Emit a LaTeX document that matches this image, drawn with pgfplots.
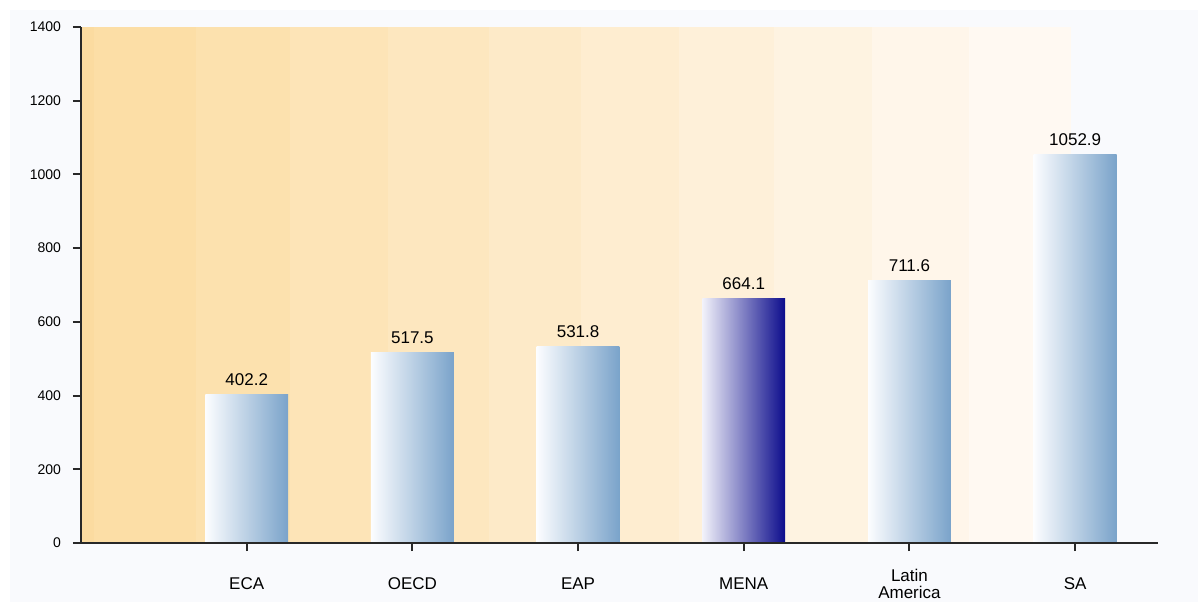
\documentclass[border=0pt]{standalone}
\usepackage{fontspec}
\setmainfont{Liberation Sans}
\usepackage{pgfplots}
\pgfplotsset{compat=1.18}
\definecolor{panel}{RGB}{249,250,253}
\definecolor{sA}{RGB}{251,219,160}
\definecolor{s0}{RGB}{252,222,166}
\definecolor{s1}{RGB}{252,225,174}
\definecolor{s2}{RGB}{253,228,183}
\definecolor{s3}{RGB}{253,231,191}
\definecolor{s4}{RGB}{253,234,200}
\definecolor{s5}{RGB}{254,237,208}
\definecolor{s6}{RGB}{254,240,217}
\definecolor{s7}{RGB}{254,243,225}
\definecolor{s8}{RGB}{255,246,234}
\definecolor{s9}{RGB}{255,249,242}
\definecolor{barL}{RGB}{252,253,255}
\definecolor{barR}{RGB}{122,163,202}
\definecolor{menaL}{RGB}{242,242,250}
\definecolor{menaR}{RGB}{12,12,140}
\definecolor{axl}{RGB}{40,40,40}
\begin{document}
\begin{tikzpicture}
\path[use as bounding box, fill=white] (-40.5bp,-29.5bp) rectangle (558.5bp,271.5bp);
\fill[panel] (-35.5bp,-29.5bp) rectangle (558.5bp,266.5bp);
\begin{axis}[
  at={(0,0)}, anchor=south west,
  scale only axis,
  width=538.5bp, height=258bp,
  xmin=-1, xmax=5.5, ymin=0, ymax=1400,
  axis x line*=bottom, axis y line*=left,
  axis line style={axl, line width=1bp},
  every tick/.style={axl, line width=1bp},
  tick align=outside,
  major tick length=4bp,
  axis on top,
  ytick={0,200,...,1400},
  xtick={0,1,2,3,4,5},
  xticklabels={ECA,OECD,EAP,MENA,{Latin\\America},SA},
  xticklabel style={font=\fontsize{8.5bp}{8.5bp}\selectfont, align=center, anchor=center, yshift=-16.5bp},
  yticklabel style={font=\fontsize{7bp}{8bp}\selectfont, xshift=-2.5bp},
  /pgf/number format/assume math mode=true,
  /pgf/number format/1000 sep={},
  ybar, bar width=0.5,
  nodes near coords,
  point meta=explicit symbolic,
  nodes near coords style={font=\fontsize{8.5bp}{9bp}\selectfont, anchor=south, yshift=1bp},
  every axis plot/.append style={draw=none, bar shift=0pt},
]
\fill[sA] (axis cs:-1,0) rectangle (axis cs:-0.92,1400);
\fill[s0] (axis cs:-0.92,0) rectangle (axis cs:-0.307,1400);
\fill[s1] (axis cs:-0.307,0) rectangle (axis cs:0.259,1400);
\fill[s2] (axis cs:0.259,0) rectangle (axis cs:0.855,1400);
\fill[s3] (axis cs:0.855,0) rectangle (axis cs:1.464,1400);
\fill[s4] (axis cs:1.464,0) rectangle (axis cs:2.018,1400);
\fill[s5] (axis cs:2.018,0) rectangle (axis cs:2.608,1400);
\fill[s6] (axis cs:2.608,0) rectangle (axis cs:3.181,1400);
\fill[s7] (axis cs:3.181,0) rectangle (axis cs:3.771,1400);
\fill[s8] (axis cs:3.771,0) rectangle (axis cs:4.361,1400);
\fill[s9] (axis cs:4.361,0) rectangle (axis cs:4.976,1400);
\addplot[left color=barL, right color=barR] coordinates {(0,402.2) [402.2]};
\addplot[left color=barL, right color=barR] coordinates {(1,517.5) [517.5]};
\addplot[left color=barL, right color=barR] coordinates {(2,531.8) [531.8]};
\addplot[left color=menaL, right color=menaR] coordinates {(3,664.1) [664.1]};
\addplot[left color=barL, right color=barR] coordinates {(4,711.6) [711.6]};
\addplot[left color=barL, right color=barR] coordinates {(5,1052.9) [1052.9]};
\end{axis}
\end{tikzpicture}
\end{document}
